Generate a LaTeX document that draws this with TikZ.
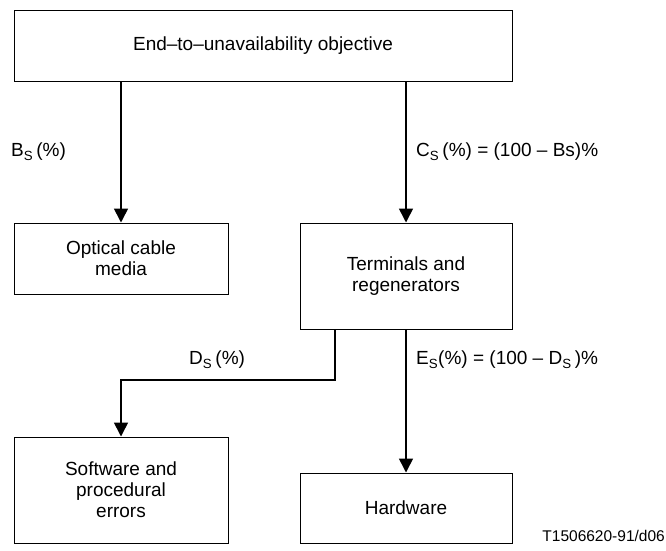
\documentclass[tikz,border=0pt]{standalone}
\usepackage{fontspec}
\setmainfont{Liberation Sans}
\usetikzlibrary{arrows.meta}
\begin{document}
\begin{tikzpicture}[x=1pt,y=-1pt,
  box/.style={draw, line width=1pt, align=center, inner sep=0pt, font=\fontsize{19}{21}\selectfont},
  conn/.style={line width=1.6pt, -{Triangle[width=14pt,length=14pt]}},
  lbl/.style={anchor=west, inner sep=0pt, font=\fontsize{19}{21}\selectfont},
  note/.style={anchor=east, inner sep=0pt, font=\fontsize{15.5}{17}\selectfont}]
\useasboundingbox (0,0) rectangle (666,550);
\node[box, minimum width=498pt, minimum height=71pt] (top) at (263,45.5) {End–to–unavailability objective};
\node[box, minimum width=214pt, minimum height=71pt] (optical) at (121,258.5) {Optical cable\\media};
\node[box, minimum width=212pt, minimum height=106pt] (term) at (406,276) {Terminals and\\regenerators};
\node[box, minimum width=214pt, minimum height=106pt] (soft) at (121,490) {Software and\\procedural\\errors};
\node[box, minimum width=212pt, minimum height=70pt] (hard) at (406,508) {Hardware};
\coordinate (dturn) at (335,380);
\draw[conn] (optical.north |- top.south) -- (optical.north);
\draw[conn] (term.north |- top.south) -- (term.north);
\draw[conn] (dturn |- term.south) -- (dturn) -| (soft.north);
\draw[conn] (term.south) -- (hard.north);
\node[lbl] (bl) at (11,152) {B\textsubscript{S}\,(\%)};
\node[lbl] (cl) at (416,152) {C\textsubscript{S}\,(\%) = (100 – Bs)\%};
\node[lbl] (dl) at (189,360) {D\textsubscript{S}\,(\%)};
\node[lbl] (el) at (416,360) {E\textsubscript{S}(\%) = (100 – D\textsubscript{S}\,)\%};
\node[note] (ref) at (665,536) {T1506620-91/d06};
\end{tikzpicture}
\end{document}
